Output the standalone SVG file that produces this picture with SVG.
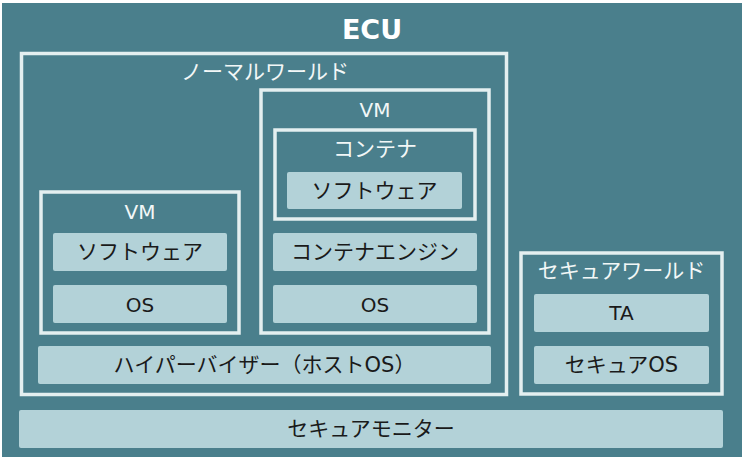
<svg xmlns="http://www.w3.org/2000/svg" width="745" height="460" viewBox="0 0 745 460">
<style>
.bg{fill:#4a7f8c}
.frame{fill:none;stroke:#e4eff0;stroke-width:3.5}
.box{fill:#b3d2d8}
text{font-family:"DejaVu Sans","Noto Sans CJK JP",sans-serif;font-size:21px;text-anchor:middle}
.en{font-size:20px}
.lt{fill:#f2f7f7}
.dk{fill:#1a1a1a}
.title{font-size:27px;font-weight:bold;fill:#ffffff}
</style>
<rect class="bg" x="2" y="3" width="740" height="454"/>
<g id="ecu"><text class="title" x="372" y="39">ECU</text></g>
<g id="normal-world">
<rect class="frame" x="21.5" y="53.5" width="485" height="341"/>
<text class="lt" x="265" y="79">ノーマルワールド</text>
</g>
<g id="vm-left">
<rect class="frame" x="41" y="192" width="198" height="141"/>
<text class="lt en" x="140" y="219">VM</text>
</g>
<g id="sw-left"><rect class="box" x="53" y="233" width="174" height="38" rx="2"/><text class="dk" x="140" y="259">ソフトウェア</text></g>
<g id="os-left"><rect class="box" x="53" y="285" width="174" height="38" rx="2"/><text class="dk en" x="140" y="312">OS</text></g>
<g id="vm-right">
<rect class="frame" x="261" y="90" width="228" height="243"/>
<text class="lt en" x="375" y="117">VM</text>
</g>
<g id="container">
<rect class="frame" x="275" y="130" width="200" height="89"/>
<text class="lt" x="375" y="156">コンテナ</text>
</g>
<g id="sw-container"><rect class="box" x="287" y="172" width="175" height="37" rx="2"/><text class="dk" x="374.5" y="198">ソフトウェア</text></g>
<g id="container-engine"><rect class="box" x="273" y="233" width="204" height="38" rx="2"/><text class="dk" x="375" y="259">コンテナエンジン</text></g>
<g id="os-right"><rect class="box" x="273" y="285" width="204" height="38" rx="2"/><text class="dk en" x="375" y="312">OS</text></g>
<g id="hypervisor"><rect class="box" x="38" y="346" width="453" height="38" rx="2"/><text class="dk" x="264.5" y="372">ハイパーバイザー（ホストOS）</text></g>
<g id="secure-world">
<rect class="frame" x="521" y="253" width="201" height="141"/>
<text class="lt" x="621.5" y="278">セキュアワールド</text>
</g>
<g id="ta"><rect class="box" x="534" y="294" width="175" height="38" rx="2"/><text class="dk en" x="621.5" y="320">TA</text></g>
<g id="secure-os"><rect class="box" x="534" y="346" width="175" height="38" rx="2"/><text class="dk" x="621.5" y="372">セキュアOS</text></g>
<g id="secure-monitor"><rect class="box" x="19" y="410" width="704" height="38" rx="2"/><text class="dk" x="371" y="436">セキュアモニター</text></g>
<g id="connectors"></g>
</svg>
